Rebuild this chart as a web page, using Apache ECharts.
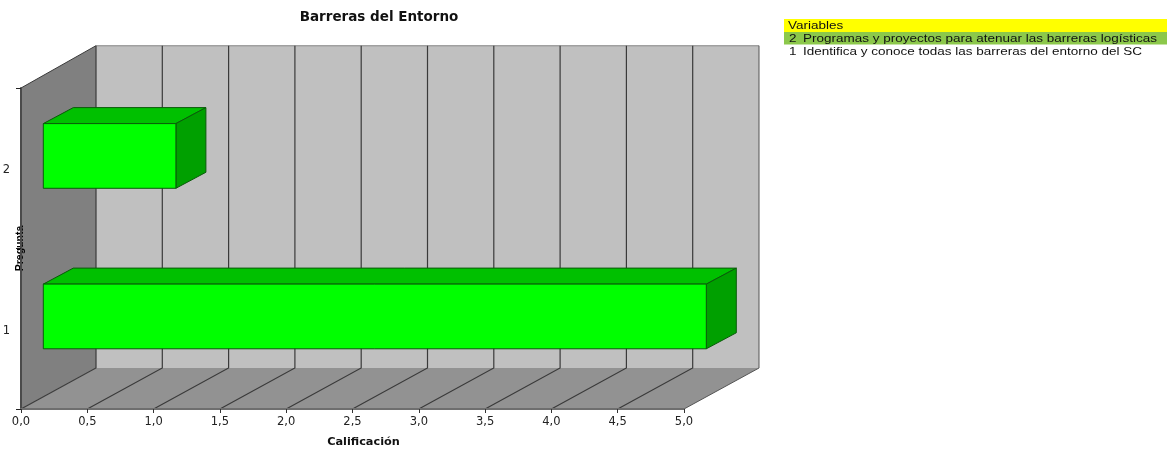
<!DOCTYPE html>
<html>
<head>
<meta charset="utf-8">
<style>html,body{margin:0;padding:0;background:#fff}#c{width:1167px;height:451px}</style>
<script src="https://cdn.jsdelivr.net/npm/echarts@6/dist/echarts.min.js"></script>
</head>
<body>
<div id="c"></div>
<script>
const categories = ['1', '2'];
const scores = [5.0, 1.0];
const xTicks = [0, 0.5, 1, 1.5, 2, 2.5, 3, 3.5, 4, 4.5, 5];
const chartTitle = 'Barreras del Entorno';
const xName = 'Calificación';
const yName = 'Pregunta';
const legendHeader = 'Variables';
const legendIds = ['2', '1'];
const legendLabels = [
  'Programas y proyectos para atenuar las barreras logísticas',
  'Identifica y conoce todas las barreras del entorno del SC'
];

const DEPTH = [75, -41];
const TOP_RISE = -42.3;
const BAR_SHIFT = [22.3, -12.3];
const BAR_DEPTH = [30, -16];
const LINE = '#3a3a3a';

const chart = echarts.init(document.getElementById('c'), null, { renderer: 'canvas' });

function poly(points, fill, stroke, lw) {
  return {
    type: 'polygon',
    shape: { points },
    style: { fill: fill, stroke: stroke || null, lineWidth: lw || 0 }
  };
}
function polyline(points, stroke, lw) {
  return {
    type: 'polyline',
    shape: { points },
    style: { fill: null, stroke: stroke, lineWidth: lw }
  };
}

function renderWalls(params, api) {
  const g = params.coordSys;
  const l = g.x, r = g.x + g.width, t = g.y, b = g.y + g.height;
  const dx = DEPTH[0], dy = DEPTH[1];
  return {
    type: 'group',
    children: [
      poly([[l + dx, t + TOP_RISE], [r + dx, t + TOP_RISE], [r + dx, b + dy], [l + dx, b + dy]], '#c0c0c0'),
      poly([[l, t], [l + dx, t + TOP_RISE], [l + dx, b + dy], [l, b]], '#808080'),
      poly([[l, b], [l + dx, b + dy], [r + dx, b + dy], [r, b]], '#929292'),
      polyline([[l + dx, t + TOP_RISE], [r + dx, t + TOP_RISE]], '#a0a0a0', 1.5),
      polyline([[l, t], [l + dx, t + TOP_RISE]], LINE, 1)
    ]
  };
}

function renderGridLine(params, api) {
  const g = params.coordSys;
  const b = g.y + g.height, t = g.y;
  const x = api.coord([api.value(0), 0])[0];
  const dx = DEPTH[0], dy = DEPTH[1];
  const last = params.dataIndex === xTicks.length - 1;
  return polyline([[x, b], [x + dx, b + dy], [x + dx, t + TOP_RISE]], last ? '#555555' : LINE, last ? 1 : 1.2);
}

function renderBar(params, api) {
  const cat = api.value(1);
  const h = api.size([0, 1])[1] * 0.403;
  const p0 = api.coord([0, cat]);
  const p1 = api.coord([api.value(0), cat]);
  const x0 = p0[0] + BAR_SHIFT[0], x1 = p1[0] + BAR_SHIFT[0];
  const y0 = p0[1] + BAR_SHIFT[1] - h / 2, y1 = y0 + h;
  const dx = BAR_DEPTH[0], dy = BAR_DEPTH[1];
  const edge = '#0a5a0a';
  return {
    type: 'group',
    children: [
      poly([[x0, y0], [x0 + dx, y0 + dy], [x1 + dx, y0 + dy], [x1, y0]], '#00c000', edge, 1),
      poly([[x1, y0], [x1 + dx, y0 + dy], [x1 + dx, y1 + dy], [x1, y1]], '#00a000', edge, 1),
      poly([[x0, y0], [x1, y0], [x1, y1], [x0, y1]], '#00ff00', edge, 1)
    ]
  };
}

const textFont = 'Liberation Sans';
const legendScale = 1.285;
const legendGraphics = [
  { type: 'rect', shape: { x: 784, y: 19, width: 383, height: 13 }, style: { fill: '#ffff00' }, silent: true },
  { type: 'rect', shape: { x: 784, y: 32, width: 383, height: 12.5 }, style: { fill: '#8cc84b' }, silent: true },
  { type: 'text', x: 788, y: 26.5, scaleX: legendScale, style: { text: legendHeader, font: '10.5px ' + textFont, fill: '#111', textVerticalAlign: 'middle' }, silent: true }
];
legendIds.forEach((id, i) => {
  const y = 39 + i * 13.2;
  legendGraphics.push(
    { type: 'text', x: 789, y, scaleX: legendScale, style: { text: id, font: '10.5px ' + textFont, fill: '#111', textVerticalAlign: 'middle' }, silent: true },
    { type: 'text', x: 803, y, scaleX: legendScale, style: { text: legendLabels[i], font: '10.5px ' + textFont, fill: '#111', textVerticalAlign: 'middle' }, silent: true }
  );
});

chart.setOption({
  animation: false,
  backgroundColor: '#ffffff',
  title: {
    text: chartTitle,
    left: 374, top: 5, textAlign: 'center',
    textStyle: { fontFamily: 'DejaVu Sans', fontWeight: 'bold', fontSize: 13.5, color: '#111' }
  },
  grid: { left: 21, top: 88, width: 663, height: 321, containLabel: false, outerBoundsMode: 'none' },
  xAxis: {
    type: 'value', min: 0, max: 5, interval: 0.5,
    name: xName, nameLocation: 'middle', nameGap: 28, nameMoveOverlap: false,
    nameTextStyle: { fontFamily: 'DejaVu Sans', fontWeight: 'bold', fontSize: 11.3, color: '#111', padding: [0, 0, 0, 22] },
    axisLine: { show: true, lineStyle: { color: '#6e6e6e', width: 2 } },
    axisTick: { show: true, length: 4, lineStyle: { color: '#333', width: 1 } },
    axisLabel: {
      margin: 7, fontFamily: 'DejaVu Sans', fontSize: 11.5, color: '#222',
      formatter: v => v.toFixed(1).replace('.', ',')
    },
    splitLine: { show: false },
    zlevel: 1
  },
  yAxis: {
    type: 'category', data: categories, zlevel: 1,
    name: yName, nameLocation: 'middle', nameGap: -5, nameRotate: 90, nameMoveOverlap: false,
    nameTextStyle: { fontFamily: 'Liberation Sans', fontWeight: 'bold', fontSize: 10.5, color: '#000' },
    axisLine: { show: true, lineStyle: { color: '#4a4a4a', width: 2 } },
    axisTick: { show: true, length: 5, lineStyle: { color: '#222', width: 1 } },
    axisLabel: { margin: 11, verticalAlign: 'top', lineHeight: 4, fontFamily: 'DejaVu Sans', fontSize: 11.5, color: '#222' },
    splitLine: { show: false }
  },
  series: [
    { type: 'custom', name: 'walls', renderItem: renderWalls, data: [[0, 0]], encode: { x: 0, y: 1 }, silent: true, z: 1 },
    { type: 'custom', name: 'grid', renderItem: renderGridLine, data: xTicks.map(v => [v, 0]), encode: { x: 0, y: 1 }, silent: true, z: 2 },
    { type: 'custom', name: 'Calificación', renderItem: renderBar, data: scores.map((v, i) => [v, i]), encode: { x: 0, y: 1 }, silent: true, z: 3 }
  ],
  graphic: legendGraphics
});
</script>
</body>
</html>
